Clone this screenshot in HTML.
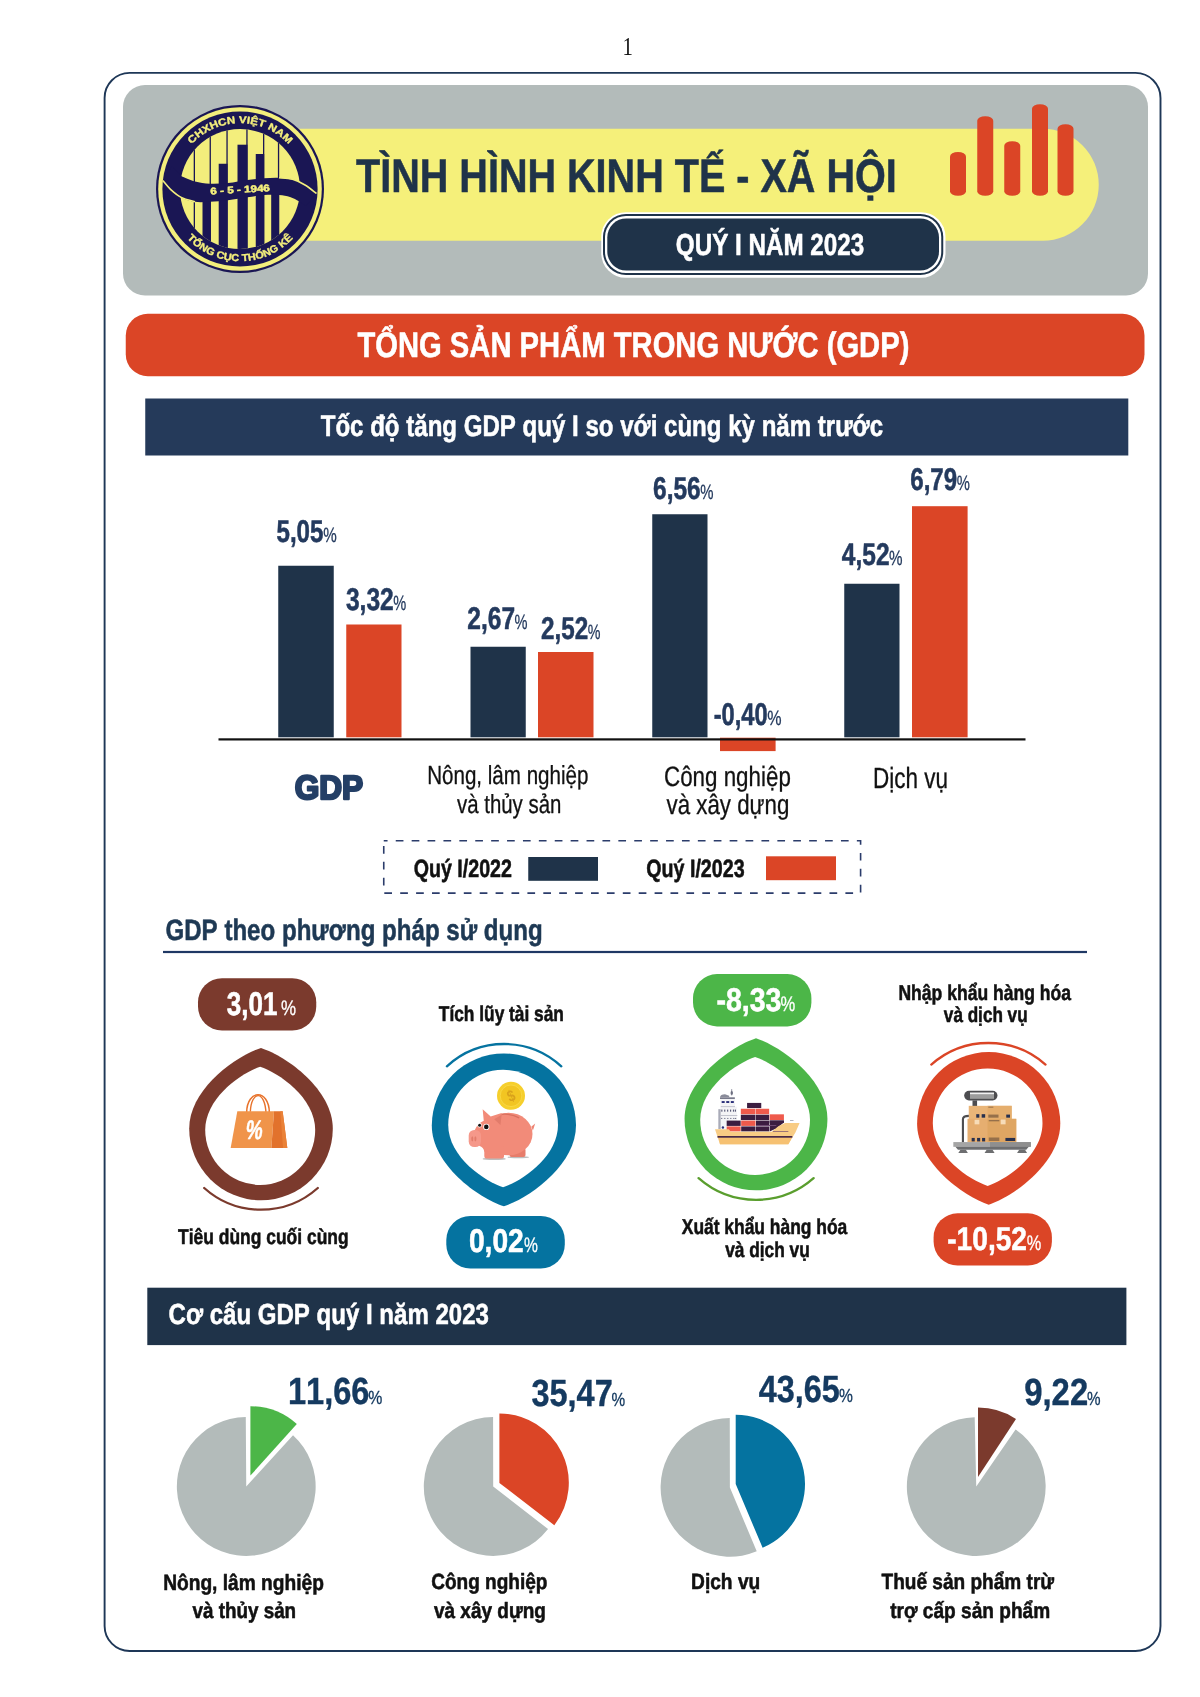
<!DOCTYPE html>
<html lang="vi"><head><meta charset="utf-8"><title>Tình hình kinh tế - xã hội quý I năm 2023</title>
<style>
html,body{margin:0;padding:0;background:#fff;}
body{width:1200px;height:1697px;overflow:hidden;font-family:"Liberation Sans",sans-serif;}
svg{display:block;will-change:transform;}
text{font-kerning:none;white-space:pre;text-rendering:geometricPrecision;}
</style></head><body>
<svg width="1200" height="1697" viewBox="0 0 1200 1697">
<rect width="1200" height="1697" fill="#fff"/>
<text transform="translate(622.48,54.80) scale(0.8100,1)" font-family="Liberation Serif, sans-serif" font-size="25.60" font-weight="400" fill="#111" >1</text>
<rect x="104.6" y="72.9" width="1055.90" height="1578.10" rx="25" ry="25" fill="none" stroke="#1e3757" stroke-width="1.9"/>
<rect x="123.00" y="85.00" width="1025.00" height="210.50" rx="22" ry="22" fill="#b3bbba" />
<path d="M240,128.75 H1042.75 A56,56 0 0 1 1042.75,240.75 H240 Z" fill="#f5f07a"/>
<text transform="translate(356.04,192.00) scale(0.8385,1)" font-family="Liberation Sans, sans-serif" font-size="47.20" font-weight="700" fill="#1f3349" stroke="#1f3349" stroke-width="0.55" stroke-linejoin="round" >TÌNH HÌNH KINH TẾ - XÃ HỘI</text>
<rect x="950" y="152" width="16" height="43.75" rx="8" ry="4.5" fill="#db4526"/>
<rect x="977.25" y="116.25" width="16.0" height="79.5" rx="8" ry="4.5" fill="#db4526"/>
<rect x="1004.25" y="141.25" width="16.0" height="54.5" rx="8" ry="4.5" fill="#db4526"/>
<rect x="1032" y="104.25" width="16" height="91.5" rx="8" ry="4.5" fill="#db4526"/>
<rect x="1057.5" y="124.25" width="16.0" height="71.5" rx="8" ry="4.5" fill="#db4526"/>
<rect x="601.25" y="212.25" width="344.25" height="65.50" rx="24.5" ry="24.5" fill="#fff" />
<rect x="603.00" y="214.00" width="340.25" height="61.00" rx="23" ry="23" fill="#1f3349" />
<rect x="605.00" y="216.00" width="336.25" height="57.00" rx="21" ry="21" fill="#fff" />
<rect x="607.30" y="218.40" width="331.70" height="52.20" rx="19" ry="19" fill="#1f3349" />
<text transform="translate(675.83,255.00) scale(0.7936,1)" font-family="Liberation Sans, sans-serif" font-size="30.50" font-weight="700" fill="#fff" stroke="#fff" stroke-width="0.55" stroke-linejoin="round" >QUÝ I NĂM 2023</text>
<rect x="125.75" y="313.75" width="1018.75" height="62.50" rx="22" ry="22" fill="#db4526" />
<text transform="translate(357.40,357.00) scale(0.8207,1)" font-family="Liberation Sans, sans-serif" font-size="35.60" font-weight="700" fill="#fff" stroke="#fff" stroke-width="0.55" stroke-linejoin="round" >TỔNG SẢN PHẨM TRONG NƯỚC (GDP)</text>
<rect x="145.25" y="398.50" width="983.05" height="57.00" rx="0" ry="0" fill="#253a5a" />
<text transform="translate(320.70,436.25) scale(0.8076,1)" font-family="Liberation Sans, sans-serif" font-size="29.80" font-weight="700" fill="#fff" stroke="#fff" stroke-width="0.55" stroke-linejoin="round" >Tốc độ tăng GDP quý I so với cùng kỳ năm trước</text>
<rect x="278.25" y="565.75" width="55.50" height="171.55" fill="#1f3349"/>
<rect x="346.25" y="624.5" width="55.25" height="112.80" fill="#db4526"/>
<rect x="470.5" y="646.75" width="55.25" height="90.55" fill="#1f3349"/>
<rect x="538" y="652" width="55.50" height="85.30" fill="#db4526"/>
<rect x="652.25" y="514.25" width="55.25" height="223.05" fill="#1f3349"/>
<rect x="844.25" y="583.75" width="55.25" height="153.55" fill="#1f3349"/>
<rect x="912" y="506.2" width="55.60" height="231.10" fill="#db4526"/>
<rect x="720" y="737.7" width="55.6" height="13.4" fill="#db4526"/>
<rect x="218.5" y="738.3" width="807" height="2.2" fill="#111"/>
<text transform="translate(276.47,542.00) scale(0.7689,1)" font-family="Liberation Sans, sans-serif" font-size="31.40" font-weight="700" fill="#243a5e" stroke="#243a5e" stroke-width="0.55" stroke-linejoin="round" >5,05</text>
<text transform="translate(323.17,542.00) scale(0.7342,1)" font-family="Liberation Sans, sans-serif" font-size="20.70" font-weight="400" fill="#243a5e" stroke="#243a5e" stroke-width="0.3" stroke-linejoin="round" >%</text>
<text transform="translate(345.90,610.00) scale(0.7833,1)" font-family="Liberation Sans, sans-serif" font-size="31.40" font-weight="700" fill="#243a5e" stroke="#243a5e" stroke-width="0.55" stroke-linejoin="round" >3,32</text>
<text transform="translate(393.19,610.00) scale(0.7052,1)" font-family="Liberation Sans, sans-serif" font-size="20.70" font-weight="400" fill="#243a5e" stroke="#243a5e" stroke-width="0.3" stroke-linejoin="round" >%</text>
<text transform="translate(467.36,628.75) scale(0.7813,1)" font-family="Liberation Sans, sans-serif" font-size="31.40" font-weight="700" fill="#243a5e" stroke="#243a5e" stroke-width="0.55" stroke-linejoin="round" >2,67</text>
<text transform="translate(514.44,628.75) scale(0.7052,1)" font-family="Liberation Sans, sans-serif" font-size="20.70" font-weight="400" fill="#243a5e" stroke="#243a5e" stroke-width="0.3" stroke-linejoin="round" >%</text>
<text transform="translate(541.12,638.75) scale(0.7713,1)" font-family="Liberation Sans, sans-serif" font-size="31.40" font-weight="700" fill="#243a5e" stroke="#243a5e" stroke-width="0.55" stroke-linejoin="round" >2,52</text>
<text transform="translate(587.69,638.75) scale(0.6907,1)" font-family="Liberation Sans, sans-serif" font-size="20.70" font-weight="400" fill="#243a5e" stroke="#243a5e" stroke-width="0.3" stroke-linejoin="round" >%</text>
<text transform="translate(653.07,498.75) scale(0.7789,1)" font-family="Liberation Sans, sans-serif" font-size="31.40" font-weight="700" fill="#243a5e" stroke="#243a5e" stroke-width="0.55" stroke-linejoin="round" >6,56</text>
<text transform="translate(700.18,498.75) scale(0.7197,1)" font-family="Liberation Sans, sans-serif" font-size="20.70" font-weight="400" fill="#243a5e" stroke="#243a5e" stroke-width="0.3" stroke-linejoin="round" >%</text>
<text transform="translate(713.68,724.80) scale(0.7543,1)" font-family="Liberation Sans, sans-serif" font-size="31.40" font-weight="700" fill="#243a5e" stroke="#243a5e" stroke-width="0.55" stroke-linejoin="round" >-0,40</text>
<text transform="translate(767.24,724.80) scale(0.7777,1)" font-family="Liberation Sans, sans-serif" font-size="20.70" font-weight="400" fill="#243a5e" stroke="#243a5e" stroke-width="0.3" stroke-linejoin="round" >%</text>
<text transform="translate(841.84,565.00) scale(0.7801,1)" font-family="Liberation Sans, sans-serif" font-size="31.40" font-weight="700" fill="#243a5e" stroke="#243a5e" stroke-width="0.55" stroke-linejoin="round" >4,52</text>
<text transform="translate(888.92,565.00) scale(0.7342,1)" font-family="Liberation Sans, sans-serif" font-size="20.70" font-weight="400" fill="#243a5e" stroke="#243a5e" stroke-width="0.3" stroke-linejoin="round" >%</text>
<text transform="translate(910.23,489.90) scale(0.7683,1)" font-family="Liberation Sans, sans-serif" font-size="31.40" font-weight="700" fill="#243a5e" stroke="#243a5e" stroke-width="0.55" stroke-linejoin="round" >6,79</text>
<text transform="translate(956.68,489.90) scale(0.7139,1)" font-family="Liberation Sans, sans-serif" font-size="20.70" font-weight="400" fill="#243a5e" stroke="#243a5e" stroke-width="0.3" stroke-linejoin="round" >%</text>
<text transform="translate(294.63,799.20) scale(0.9384,1)" font-family="Liberation Sans, sans-serif" font-size="33.70" font-weight="700" fill="#243f66" stroke="#243f66" stroke-width="2.4" stroke-linejoin="round" >GDP</text>
<text transform="translate(427.13,784.25) scale(0.7860,1)" font-family="Liberation Sans, sans-serif" font-size="26.20" font-weight="400" fill="#111" stroke="#111" stroke-width="0.3" stroke-linejoin="round" >Nông, lâm nghiệp</text>
<text transform="translate(457.05,812.60) scale(0.7789,1)" font-family="Liberation Sans, sans-serif" font-size="26.20" font-weight="400" fill="#111" stroke="#111" stroke-width="0.3" stroke-linejoin="round" >và thủy sản</text>
<text transform="translate(663.98,786.25) scale(0.7987,1)" font-family="Liberation Sans, sans-serif" font-size="28.00" font-weight="400" fill="#111" stroke="#111" stroke-width="0.3" stroke-linejoin="round" >Công nghiệp</text>
<text transform="translate(666.54,813.80) scale(0.7964,1)" font-family="Liberation Sans, sans-serif" font-size="28.00" font-weight="400" fill="#111" stroke="#111" stroke-width="0.3" stroke-linejoin="round" >và xây dựng</text>
<text transform="translate(873.07,787.60) scale(0.7704,1)" font-family="Liberation Sans, sans-serif" font-size="29.20" font-weight="400" fill="#111" stroke="#111" stroke-width="0.3" stroke-linejoin="round" >Dịch vụ</text>
<rect x="383.75" y="840.75" width="476.85" height="52.35" fill="none" stroke="#2b3c6b" stroke-width="1.6" stroke-dasharray="7.7 8.2" stroke-dashoffset="3.9"/>
<text transform="translate(413.71,876.90) scale(0.7856,1)" font-family="Liberation Sans, sans-serif" font-size="25.00" font-weight="700" fill="#111" stroke="#111" stroke-width="0.55" stroke-linejoin="round" >Quý I/2022</text>
<rect x="528.25" y="857" width="69.75" height="23.8" fill="#1f3349"/>
<text transform="translate(646.21,876.90) scale(0.7866,1)" font-family="Liberation Sans, sans-serif" font-size="25.00" font-weight="700" fill="#111" stroke="#111" stroke-width="0.55" stroke-linejoin="round" >Quý I/2023</text>
<rect x="766" y="856.3" width="70" height="23.9" fill="#db4526"/>
<text transform="translate(165.49,940.00) scale(0.8166,1)" font-family="Liberation Sans, sans-serif" font-size="29.50" font-weight="700" fill="#1e3954" stroke="#1e3954" stroke-width="0.55" stroke-linejoin="round" >GDP theo phương pháp sử dụng</text>
<rect x="163" y="950.9" width="924" height="2.2" fill="#1f3864"/>
<rect x="198.00" y="978.25" width="118.25" height="52.25" rx="24" ry="24" fill="#7b3a2d" />
<text transform="translate(226.82,1014.80) scale(0.7940,1)" font-family="Liberation Sans, sans-serif" font-size="32.80" font-weight="700" fill="#fff" stroke="#fff" stroke-width="0.55" stroke-linejoin="round" >3,01</text>
<text transform="translate(280.92,1014.80) scale(0.8069,1)" font-family="Liberation Sans, sans-serif" font-size="21.00" font-weight="400" fill="#fff" stroke="#fff" stroke-width="0.3" stroke-linejoin="round" >%</text>
<path d="M189.20,1128.50 C189.20,1089.73 234.65,1056.59 261.00,1047.90 C287.35,1056.59 332.80,1089.73 332.80,1128.50 A71.80,71.80 0 0 1 189.20,1128.50 Z" fill="#7b3a2d"/>
<path d="M205.20,1130.00 C205.20,1097.22 242.46,1072.42 260.20,1066.70 C277.94,1072.42 315.20,1097.22 315.20,1130.00 A55.00,55.00 0 0 1 205.20,1130.00 Z" fill="#fff"/>
<path d="M204.20,1188.00 A85.19,85.19 0 0 0 317.80,1188.00" fill="none" stroke="#7b3a2d" stroke-width="2.3" stroke-linecap="round"/>
<text transform="translate(178.03,1244.40) scale(0.8159,1)" font-family="Liberation Sans, sans-serif" font-size="21.40" font-weight="700" fill="#111" stroke="#111" stroke-width="0.55" stroke-linejoin="round" >Tiêu dùng cuối cùng</text>
<text transform="translate(438.83,1020.70) scale(0.8056,1)" font-family="Liberation Sans, sans-serif" font-size="21.50" font-weight="700" fill="#111" stroke="#111" stroke-width="0.55" stroke-linejoin="round" >Tích lũy tài sản</text>
<path d="M446.90,1066.30 A84.51,84.51 0 0 1 561.30,1066.30" fill="none" stroke="#0573a0" stroke-width="2.3" stroke-linecap="round"/>
<path d="M431.80,1125.50 C431.80,1164.43 477.44,1197.58 503.90,1206.30 C530.36,1197.58 576.00,1164.43 576.00,1125.50 A72.10,72.10 0 0 0 431.80,1125.50 Z" fill="#0573a0"/>
<path d="M448.20,1124.70 C448.20,1157.42 485.39,1181.49 503.10,1187.20 C520.81,1181.49 558.00,1157.42 558.00,1124.70 A54.90,54.90 0 0 0 448.20,1124.70 Z" fill="#fff"/>
<rect x="446.30" y="1216.00" width="118.50" height="52.60" rx="24" ry="24" fill="#0573a0" />
<text transform="translate(468.92,1252.20) scale(0.8595,1)" font-family="Liberation Sans, sans-serif" font-size="32.80" font-weight="700" fill="#fff" stroke="#fff" stroke-width="0.55" stroke-linejoin="round" >0,02</text>
<text transform="translate(524.05,1252.20) scale(0.7439,1)" font-family="Liberation Sans, sans-serif" font-size="21.00" font-weight="400" fill="#fff" stroke="#fff" stroke-width="0.3" stroke-linejoin="round" >%</text>
<rect x="693.00" y="974.10" width="118.40" height="52.30" rx="24" ry="24" fill="#4cb648" />
<text transform="translate(716.42,1010.50) scale(0.8703,1)" font-family="Liberation Sans, sans-serif" font-size="32.80" font-weight="700" fill="#fff" stroke="#fff" stroke-width="0.55" stroke-linejoin="round" >-8,33</text>
<text transform="translate(780.53,1010.50) scale(0.7897,1)" font-family="Liberation Sans, sans-serif" font-size="21.00" font-weight="400" fill="#fff" stroke="#fff" stroke-width="0.3" stroke-linejoin="round" >%</text>
<path d="M684.55,1118.90 C684.55,1080.32 729.78,1046.85 756.00,1038.20 C782.22,1046.85 827.45,1080.32 827.45,1118.90 A71.45,71.45 0 0 1 684.55,1118.90 Z" fill="#4cb648"/>
<path d="M700.20,1120.00 C700.20,1087.28 737.39,1062.71 755.10,1057.00 C772.81,1062.71 810.00,1087.28 810.00,1120.00 A54.90,54.90 0 0 1 700.20,1120.00 Z" fill="#fff"/>
<path d="M698.60,1178.10 A87.03,87.03 0 0 0 813.60,1178.10" fill="none" stroke="#5a9e2e" stroke-width="2.3" stroke-linecap="round"/>
<text transform="translate(681.77,1234.40) scale(0.8102,1)" font-family="Liberation Sans, sans-serif" font-size="21.50" font-weight="700" fill="#111" stroke="#111" stroke-width="0.55" stroke-linejoin="round" >Xuất khẩu hàng hóa</text>
<text transform="translate(725.15,1256.60) scale(0.8052,1)" font-family="Liberation Sans, sans-serif" font-size="21.50" font-weight="700" fill="#111" stroke="#111" stroke-width="0.55" stroke-linejoin="round" >và dịch vụ</text>
<text transform="translate(898.45,999.90) scale(0.8159,1)" font-family="Liberation Sans, sans-serif" font-size="21.50" font-weight="700" fill="#111" stroke="#111" stroke-width="0.55" stroke-linejoin="round" >Nhập khẩu hàng hóa</text>
<text transform="translate(943.85,1021.70) scale(0.7966,1)" font-family="Liberation Sans, sans-serif" font-size="21.50" font-weight="700" fill="#111" stroke="#111" stroke-width="0.55" stroke-linejoin="round" >và dịch vụ</text>
<path d="M931.30,1064.60 A86.27,86.27 0 0 1 1045.50,1064.60" fill="none" stroke="#db4526" stroke-width="2.3" stroke-linecap="round"/>
<path d="M917.10,1123.60 C917.10,1162.26 962.42,1196.04 988.70,1204.70 C1014.98,1196.04 1060.30,1162.26 1060.30,1123.60 A71.60,71.60 0 0 0 917.10,1123.60 Z" fill="#db4526"/>
<path d="M932.80,1123.30 C932.80,1155.99 969.96,1180.20 987.65,1185.90 C1005.34,1180.20 1042.50,1155.99 1042.50,1123.30 A54.85,54.85 0 0 0 932.80,1123.30 Z" fill="#fff"/>
<rect x="933.60" y="1213.30" width="118.30" height="52.30" rx="24" ry="24" fill="#db4526" />
<text transform="translate(947.24,1249.50) scale(0.8575,1)" font-family="Liberation Sans, sans-serif" font-size="32.80" font-weight="700" fill="#fff" stroke="#fff" stroke-width="0.55" stroke-linejoin="round" >-10,52</text>
<text transform="translate(1026.73,1249.50) scale(0.7782,1)" font-family="Liberation Sans, sans-serif" font-size="21.00" font-weight="400" fill="#fff" stroke="#fff" stroke-width="0.3" stroke-linejoin="round" >%</text>
<g id="bag">
<path d="M246.67,1112.33 C247.00,1089.00 269.00,1089.00 269.33,1112.33" fill="none" stroke="#e8722a" stroke-width="1.5"/>
<path d="M250.33,1111.67 C251.33,1090.00 265.33,1090.00 266.00,1113.67" fill="none" stroke="#e8722a" stroke-width="1.4"/>
<polygon points="237.33,1111.33 274.00,1111.33 271.33,1148.00 230.67,1148.00" fill="#f0944a" />
<polygon points="274.00,1111.33 282.67,1111.33 287.33,1148.00 271.33,1148.00" fill="#e2722c" />
<polygon points="280.33,1111.33 282.67,1111.33 287.33,1148.00 283.00,1148.00" fill="#ea8238" />
<text transform="translate(244.72,1139.00) skewX(-8) scale(0.7034,1)" font-family="Liberation Sans, sans-serif" font-size="27.00" font-weight="700" fill="#fff" stroke="#fff" stroke-width="0.55" stroke-linejoin="round" >%</text>
</g>
<g id="pig">
<circle cx="511" cy="1095.8" r="14" fill="#f6cf2c"/>
<circle cx="511" cy="1095.8" r="10.8" fill="#f2c522"/>
<circle cx="511" cy="1095.8" r="10.8" fill="none" stroke="#f9da4a" stroke-width="0.8"/>
<text transform="translate(511,1095.8) rotate(-22) scale(0.82,1)" text-anchor="middle" font-family="Liberation Sans, sans-serif" font-weight="700" font-size="16" fill="#d9a21b" y="5.6">$</text>
<ellipse cx="494.2" cy="1158.9" rx="11.7" ry="1.1" fill="#bdbdbd"/>
<ellipse cx="518.3" cy="1157.2" rx="10.8" ry="1.1" fill="#bdbdbd"/>
<rect x="509.50" y="1148.00" width="16.00" height="9.00" fill="#e77d6b" rx="2"/>
<polygon points="531.25,1126.67 535.17,1123.58 532.92,1130.42" fill="#ee8473" />
<ellipse cx="508.5" cy="1134" rx="24" ry="21.3" fill="#f28b79"/>
<rect x="484.30" y="1146.00" width="19.70" height="12.40" fill="#f28b79" rx="2.5"/>
<path d="M482.67,1109.33 L490.67,1116.50 L501.67,1112.92 L501.67,1151.67 L484.33,1151.67 Q483.75,1147.50 479.17,1145.83 L474.58,1130.42 Q477.08,1123.75 483.75,1120.67 Z" fill="#f28b79"/>
<polygon points="494.17,1119.17 501.67,1114.83 500.42,1125.00" fill="#e27c6b" />
<rect x="468.70" y="1130.00" width="12.30" height="17.00" fill="#f5988a" rx="5.5"/>
<ellipse cx="472.3" cy="1138.8" rx="1" ry="2.6" fill="#e27c6b"/>
<ellipse cx="475.4" cy="1138.8" rx="1" ry="2.6" fill="#e27c6b"/>
<circle cx="479.6" cy="1125.3" r="2.2" fill="#fff"/><circle cx="479.6" cy="1125.3" r="1.5" fill="#111"/>
<circle cx="486.3" cy="1126.9" r="3.1" fill="#fff"/><circle cx="486.3" cy="1126.9" r="2.3" fill="#111"/>
<path d="M501.67,1114.33 Q511.67,1113.50 519.17,1117.92" fill="none" stroke="#d8705f" stroke-width="1.3"/>
</g>
<g id="ship">
<rect x="720.42" y="1097.08" width="14.58" height="32.08" fill="#f4f4f6"/>
<rect x="720.83" y="1106.67" width="16.25" height="22.50" fill="#f4f4f6"/>
<rect x="718.33" y="1109.17" width="2.33" height="20.00" fill="#a9abb8"/>
<rect x="720.00" y="1097.33" width="14.83" height="1.67" fill="#77798a"/>
<path d="M720.00,1097.33 Q720.42,1094.33 725.00,1094.33 L729.17,1095.83 L729.17,1097.33 Z" fill="#8a8c9a"/>
<rect x="731.33" y="1089.17" width="0.83" height="6.25" fill="#77798a"/>
<ellipse cx="731.75" cy="1092.92" rx="1.2" ry="1.9" fill="#6c6e80"/>
<rect x="721.67" y="1101.08" width="3.00" height="1.92" fill="#2a2f7a"/>
<rect x="726.25" y="1101.08" width="3.00" height="1.92" fill="#2a2f7a"/>
<rect x="730.83" y="1101.08" width="3.00" height="1.92" fill="#2a2f7a"/>
<rect x="720.83" y="1106.25" width="14.17" height="0.83" fill="#b9bac6"/>
<rect x="721.25" y="1109.58" width="1.17" height="2.08" fill="#5a5c78"/>
<rect x="724.17" y="1109.58" width="1.17" height="2.08" fill="#5a5c78"/>
<rect x="727.08" y="1109.58" width="1.17" height="2.08" fill="#5a5c78"/>
<rect x="730.00" y="1109.58" width="1.17" height="2.08" fill="#5a5c78"/>
<rect x="732.92" y="1109.58" width="1.17" height="2.08" fill="#5a5c78"/>
<rect x="734.83" y="1109.58" width="1.17" height="2.08" fill="#5a5c78"/>
<rect x="720.83" y="1115.17" width="16.50" height="0.83" fill="#b9bac6"/>
<rect x="721.25" y="1117.92" width="1.00" height="1.08" fill="#5a5c78"/>
<rect x="724.33" y="1117.92" width="1.00" height="1.08" fill="#5a5c78"/>
<rect x="727.33" y="1117.92" width="1.00" height="1.08" fill="#5a5c78"/>
<rect x="730.33" y="1117.92" width="1.00" height="1.08" fill="#5a5c78"/>
<rect x="733.33" y="1117.92" width="1.00" height="1.08" fill="#5a5c78"/>
<rect x="735.17" y="1117.92" width="1.00" height="1.08" fill="#5a5c78"/>
<circle cx="722.92" cy="1127.50" r="1.2" fill="#2a2f7a"/>
<rect x="747.08" y="1102.92" width="14.17" height="5.17" fill="#3b1d40"/>
<rect x="740.83" y="1108.75" width="14.67" height="5.50" fill="#ef5a4c"/>
<rect x="756.00" y="1108.75" width="13.17" height="5.50" fill="#ef5a4c"/>
<rect x="740.83" y="1114.75" width="14.67" height="5.33" fill="#3b1d40"/>
<rect x="756.00" y="1114.75" width="13.17" height="5.33" fill="#3b1d40"/>
<rect x="769.67" y="1114.33" width="14.25" height="5.75" fill="#ef5a4c"/>
<rect x="726.67" y="1120.58" width="14.00" height="5.33" fill="#3b1d40"/>
<rect x="741.17" y="1120.58" width="14.33" height="5.33" fill="#ef5a4c"/>
<rect x="756.00" y="1120.58" width="13.17" height="5.33" fill="#3b1d40"/>
<rect x="769.67" y="1120.58" width="14.25" height="2.33" fill="#3b1d40"/>
<polygon points="769.67,1120.58 783.92,1120.58 783.92,1122.50 776.67,1128.33 769.67,1131.42" fill="#3b1d40" />
<rect x="726.67" y="1126.42" width="14.00" height="5.00" fill="#ef5a4c"/>
<rect x="741.17" y="1126.42" width="14.33" height="5.00" fill="#3b1d40"/>
<rect x="756.00" y="1126.42" width="13.17" height="5.00" fill="#3b1d40"/>
<polygon points="756.00,1125.00 776.67,1125.00 775.83,1126.00 756.00,1126.00" fill="#6e4a72" />
<polygon points="715.00,1129.17 728.75,1129.17 730.83,1131.67 771.67,1131.67 778.33,1126.25 785.00,1123.08 799.58,1122.92 795.42,1132.50 788.33,1144.17 720.00,1144.17" fill="#f8cc84" />
<polygon points="718.75,1137.92 791.67,1137.92 788.33,1144.17 720.00,1144.17" fill="#f6c172" />
<rect x="717.50" y="1136.08" width="74.83" height="1.58" fill="#3b1d40"/>
<rect x="772.92" y="1131.00" width="15.42" height="0.67" fill="#6e4a72"/>
<rect x="790.00" y="1120.00" width="3.50" height="0.75" fill="#9a9caa"/>
</g>
<g id="scale">
<rect x="964.17" y="1090.83" width="33.33" height="9.58" fill="#4d4d50" rx="4.8"/>
<rect x="970.00" y="1094.00" width="24.00" height="4.83" fill="#9d9d9d"/>
<rect x="970.00" y="1092.50" width="24.00" height="1.67" fill="#f2f2f2"/>
<rect x="972.50" y="1100.42" width="4.58" height="5.58" fill="#4d4d50"/>
<path d="M962.92,1142.50 V1119.17 Q962.92,1115.83 969.17,1115.83" fill="none" stroke="#4d4d50" stroke-width="2.1"/>
<rect x="968.75" y="1105.83" width="42.92" height="13.50" fill="#e9b578"/>
<rect x="987.50" y="1105.83" width="24.17" height="13.50" fill="#e5ae6d"/>
<rect x="967.50" y="1118.83" width="48.75" height="23.50" fill="#e6ae70"/>
<rect x="987.50" y="1118.83" width="28.75" height="23.50" fill="#dfa663"/>
<rect x="976.25" y="1114.17" width="3.08" height="3.50" fill="#27304e"/>
<rect x="981.67" y="1114.17" width="3.50" height="3.50" fill="#27304e"/>
<rect x="1006.25" y="1114.58" width="3.75" height="3.08" fill="#27304e"/>
<rect x="988.33" y="1114.58" width="10.17" height="3.08" fill="#96704a"/>
<rect x="988.75" y="1120.00" width="10.58" height="1.33" fill="#96704a"/>
<rect x="974.58" y="1119.83" width="4.75" height="4.50" fill="#f7dcb8"/>
<rect x="1000.67" y="1119.50" width="4.92" height="4.83" fill="#f7dcb8"/>
<rect x="988.33" y="1106.67" width="5.00" height="1.00" fill="#96704a"/>
<rect x="971.67" y="1137.92" width="3.08" height="3.50" fill="#27304e"/>
<rect x="977.08" y="1137.92" width="3.08" height="3.50" fill="#27304e"/>
<rect x="982.08" y="1137.92" width="3.08" height="3.50" fill="#27304e"/>
<rect x="988.75" y="1137.50" width="10.58" height="3.50" fill="#96704a"/>
<rect x="1005.42" y="1137.92" width="9.75" height="3.08" fill="#27304e"/>
<rect x="953.33" y="1142.08" width="77.50" height="4.75" fill="#a5a5a5"/>
<rect x="990.00" y="1142.08" width="40.83" height="4.75" fill="#8f8f8f"/>
<polygon points="955.42,1146.83 1028.75,1146.83 1026.25,1149.67 957.92,1149.67" fill="#6d6e70" />
<polygon points="960.42,1149.67 965.83,1149.67 967.92,1153.00 958.33,1153.00" fill="#6d6e70" />
<polygon points="986.67,1149.67 992.50,1149.67 994.58,1153.00 984.58,1153.00" fill="#6d6e70" />
<polygon points="1019.17,1149.67 1025.00,1149.67 1027.08,1153.00 1017.08,1153.00" fill="#6d6e70" />
</g>
<rect x="147.30" y="1287.70" width="979.10" height="57.40" rx="0" ry="0" fill="#1f3349" />
<text transform="translate(168.54,1324.30) scale(0.8290,1)" font-family="Liberation Sans, sans-serif" font-size="29.00" font-weight="700" fill="#fff" stroke="#fff" stroke-width="0.55" stroke-linejoin="round" >Cơ cấu GDP quý I năm 2023</text>
<path d="M246.25,1486.50 L293.03,1435.23 A69.4,69.4 0 1 1 245.77,1417.10 Z" fill="#b3bbba"/>
<path d="M250.40,1475.60 L250.40,1406.20 A69.4,69.4 0 0 1 296.82,1424.01 Z" fill="#4cb648"/>
<path d="M493.20,1486.50 L548.04,1529.03 A69.4,69.4 0 1 1 493.08,1417.10 Z" fill="#b3bbba"/>
<path d="M499.40,1482.90 L499.40,1413.50 A69.4,69.4 0 0 1 554.32,1525.33 Z" fill="#db4526"/>
<path d="M729.90,1487.40 L756.71,1551.30 A69.3,69.3 0 1 1 729.78,1418.10 Z" fill="#b3bbba"/>
<path d="M735.70,1484.00 L735.70,1414.70 A69.3,69.3 0 0 1 762.62,1547.86 Z" fill="#0573a0"/>
<path d="M976.25,1486.60 L1015.55,1429.40 A69.4,69.4 0 1 1 974.68,1417.22 Z" fill="#b3bbba"/>
<path d="M978.00,1477.00 L978.00,1407.60 A69.4,69.4 0 0 1 1015.99,1418.92 Z" fill="#7b3a2d"/>
<text transform="translate(287.92,1404.00) scale(0.8625,1)" font-family="Liberation Sans, sans-serif" font-size="37.80" font-weight="700" fill="#153a60" stroke="#153a60" stroke-width="0.4" stroke-linejoin="round" >11,66</text>
<text transform="translate(368.36,1404.00) scale(0.8334,1)" font-family="Liberation Sans, sans-serif" font-size="19.00" font-weight="400" fill="#153a60" stroke="#153a60" stroke-width="0.3" stroke-linejoin="round" >%</text>
<text transform="translate(531.43,1406.00) scale(0.8598,1)" font-family="Liberation Sans, sans-serif" font-size="37.80" font-weight="700" fill="#153a60" stroke="#153a60" stroke-width="0.4" stroke-linejoin="round" >35,47</text>
<text transform="translate(611.57,1406.00) scale(0.8081,1)" font-family="Liberation Sans, sans-serif" font-size="19.00" font-weight="400" fill="#153a60" stroke="#153a60" stroke-width="0.3" stroke-linejoin="round" >%</text>
<text transform="translate(758.68,1402.10) scale(0.8568,1)" font-family="Liberation Sans, sans-serif" font-size="37.80" font-weight="700" fill="#153a60" stroke="#153a60" stroke-width="0.4" stroke-linejoin="round" >43,65</text>
<text transform="translate(839.07,1402.10) scale(0.8207,1)" font-family="Liberation Sans, sans-serif" font-size="19.00" font-weight="400" fill="#153a60" stroke="#153a60" stroke-width="0.3" stroke-linejoin="round" >%</text>
<text transform="translate(1024.24,1404.70) scale(0.8686,1)" font-family="Liberation Sans, sans-serif" font-size="37.80" font-weight="700" fill="#153a60" stroke="#153a60" stroke-width="0.4" stroke-linejoin="round" >9,22</text>
<text transform="translate(1086.88,1404.70) scale(0.8018,1)" font-family="Liberation Sans, sans-serif" font-size="19.00" font-weight="400" fill="#153a60" stroke="#153a60" stroke-width="0.3" stroke-linejoin="round" >%</text>
<text transform="translate(163.16,1589.80) scale(0.8707,1)" font-family="Liberation Sans, sans-serif" font-size="22.00" font-weight="700" fill="#111" stroke="#111" stroke-width="0.55" stroke-linejoin="round" >Nông, lâm nghiệp</text>
<text transform="translate(192.46,1617.80) scale(0.8565,1)" font-family="Liberation Sans, sans-serif" font-size="22.00" font-weight="700" fill="#111" stroke="#111" stroke-width="0.55" stroke-linejoin="round" >và thủy sản</text>
<text transform="translate(431.16,1589.20) scale(0.8651,1)" font-family="Liberation Sans, sans-serif" font-size="22.00" font-weight="700" fill="#111" stroke="#111" stroke-width="0.55" stroke-linejoin="round" >Công nghiệp</text>
<text transform="translate(433.91,1617.80) scale(0.8633,1)" font-family="Liberation Sans, sans-serif" font-size="22.00" font-weight="700" fill="#111" stroke="#111" stroke-width="0.55" stroke-linejoin="round" >và xây dựng</text>
<text transform="translate(691.06,1589.20) scale(0.8704,1)" font-family="Liberation Sans, sans-serif" font-size="22.00" font-weight="700" fill="#111" stroke="#111" stroke-width="0.55" stroke-linejoin="round" >Dịch vụ</text>
<text transform="translate(881.52,1589.20) scale(0.8663,1)" font-family="Liberation Sans, sans-serif" font-size="22.00" font-weight="700" fill="#111" stroke="#111" stroke-width="0.55" stroke-linejoin="round" >Thuế sản phẩm trừ</text>
<text transform="translate(890.21,1617.80) scale(0.8676,1)" font-family="Liberation Sans, sans-serif" font-size="22.00" font-weight="700" fill="#111" stroke="#111" stroke-width="0.55" stroke-linejoin="round" >trợ cấp sản phẩm</text>
<g id="logo">
<circle cx="240" cy="189" r="84" fill="#1a1654"/>
<circle cx="240" cy="189" r="81.8" fill="#f3ee7c"/>
<circle cx="240" cy="189" r="77.6" fill="#1a1654"/>
<clipPath id="lgc"><circle cx="240" cy="189" r="60"/></clipPath>
<circle cx="240" cy="189" r="60" fill="#f3ee7c"/>
<g clip-path="url(#lgc)" fill="#1a1654">
<rect x="193.70" y="120" width="1.3" height="140"/>
<rect x="209.60" y="120" width="1.3" height="140"/>
<rect x="226.40" y="120" width="1.3" height="140"/>
<rect x="246.30" y="120" width="1.3" height="140"/>
<rect x="263.00" y="120" width="1.3" height="140"/>
<rect x="277.90" y="120" width="1.3" height="140"/>
<rect x="218.7" y="163.75" width="8.90" height="96.25"/>
<rect x="237.5" y="144.7" width="10.00" height="115.30000000000001"/>
<rect x="255.75" y="154" width="8.45" height="106"/>
<rect x="202.5" y="190" width="8.30" height="70"/>
<rect x="271.2" y="190" width="7.90" height="70"/>
</g>
<path d="M181.50,176.25 C183.75,177.12 190.25,180.25 195.00,181.50 C199.75,182.75 204.50,183.50 210.00,183.75 C215.50,184.00 221.75,183.62 228.00,183.00 C234.25,182.38 241.50,180.80 247.50,180.00 C253.50,179.20 258.75,178.57 264.00,178.20 C269.25,177.82 274.25,177.57 279.00,177.75 C283.75,177.93 288.17,178.04 292.50,179.25 C296.83,180.46 301.00,182.62 305.00,185.00 C309.00,187.38 314.58,192.08 316.50,193.50 L306,206 L298.5,201 C297.08,200.33 293.25,198.00 290.00,197.00 C286.75,196.00 283.33,195.33 279.00,195.00 C274.67,194.67 269.25,194.62 264.00,195.00 C258.75,195.38 253.50,196.38 247.50,197.25 C241.50,198.12 234.25,199.50 228.00,200.25 C221.75,201.00 215.50,201.50 210.00,201.75 C204.50,202.00 199.78,202.47 195.00,201.75 C190.22,201.03 185.38,199.47 181.30,197.40 C177.22,195.33 173.57,192.10 170.50,189.30 C167.43,186.50 164.17,182.05 162.90,180.60 L172,166 Z" fill="#1a1654"/>
<path d="M279.00,177.75 C281.25,178.00 288.17,178.04 292.50,179.25 C296.83,180.46 301.00,182.62 305.00,185.00 C309.00,187.38 314.58,192.08 316.50,193.50" fill="none" stroke="#f3ee7c" stroke-width="1.6"/>
<path d="M162.90,180.60 C164.17,182.05 167.43,186.50 170.50,189.30 C173.57,192.10 177.22,195.33 181.30,197.40 C185.38,199.47 192.72,201.03 195.00,201.75" fill="none" stroke="#f3ee7c" stroke-width="1.6"/>
<text transform="translate(210.6,194.6) rotate(-3.4)" font-family="Liberation Sans, sans-serif" font-weight="700" font-size="9.6" fill="#f3ee7c" stroke="#f3ee7c" stroke-width="0.5" textLength="59.6" lengthAdjust="spacingAndGlyphs">6 - 5 - 1946</text>
<path id="lgt" d="M191.65,144.22 A65.9,65.9 0 0 1 288.35,144.22" fill="none"/>
<text font-family="Liberation Sans, sans-serif" font-weight="700" font-size="10.1" fill="#f3ee7c" stroke="#f3ee7c" stroke-width="0.35"><textPath href="#lgt" textLength="108.6" lengthAdjust="spacingAndGlyphs">CHXHCN VIỆT NAM</textPath></text>
<path id="lgb" d="M187.12,238.31 A72.3,72.3 0 0 0 292.88,238.31" fill="none"/>
<text font-family="Liberation Sans, sans-serif" font-weight="700" font-size="10.1" fill="#f3ee7c" stroke="#f3ee7c" stroke-width="0.35"><textPath href="#lgb" textLength="118.6" lengthAdjust="spacingAndGlyphs">TỔNG CỤC THỐNG KÊ</textPath></text>
</g>
</svg>
</body></html>
